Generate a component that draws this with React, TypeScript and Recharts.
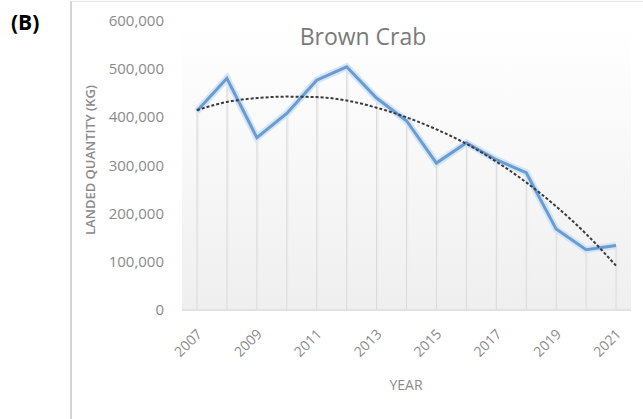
import { Bar, CartesianGrid, ComposedChart, Line, XAxis, YAxis } from 'recharts'

const YEARS = [
  '2007', '2008', '2009', '2010', '2011', '2012', '2013', '2014',
  '2015', '2016', '2017', '2018', '2019', '2020', '2021',
]
const LANDED = [
  413000, 481000, 358000, 408000, 477000, 505000, 440000, 393000,
  305000, 347000, 312000, 285000, 168000, 125000, 134000,
]
const TREND = [
  415000, 432000, 440000, 443000, 442000, 435000, 420000, 400000,
  375000, 345000, 308000, 265000, 215000, 158000, 92000,
]
const Y_TICKS = [0, 100000, 200000, 300000, 400000, 500000, 600000]

const data = YEARS.map((year, i) => ({ year, qty: LANDED[i], trend: TREND[i] }))

const FONT = '"Open Sans", "Liberation Sans", sans-serif'
const GREY = '#8a8a8a'

const fmt = (v: number) => v.toLocaleString('en-US')

/** Excel-style drop line from the point down to the axis. */
function DropLine(props: any) {
  const { x, y, width, height } = props
  if (height == null || height <= 0) return null
  const cx = x + width / 2
  return (
    <g>
      <line x1={cx + 1} x2={cx + 1} y1={y} y2={y + height} stroke="#efefef" strokeWidth={2} />
      <line x1={cx} x2={cx} y1={y} y2={y + height} stroke="#dadada" strokeWidth={1} />
    </g>
  )
}

function YearTick(props: any) {
  const { x, y, payload } = props
  const tx = x + 6
  const ty = y + 17
  return (
    <text
      x={tx}
      y={ty}
      transform={`rotate(-45 ${tx} ${ty})`}
      textAnchor="end"
      fill={GREY}
      fontSize={14}
      fontFamily={FONT}
    >
      {payload.value}
    </text>
  )
}

function ValueTick(props: any) {
  const { x, y, payload } = props
  return (
    <text x={x - 10} y={y + 5} textAnchor="end" fill={GREY} fontSize={15} fontFamily={FONT}>
      {fmt(payload.value)}
    </text>
  )
}

export default function App() {
  return (
    <div
      style={{
        position: 'fixed',
        left: 0,
        top: 0,
        width: 643,
        height: 419,
        background: '#fff',
        fontFamily: FONT,
      }}
    >
      <div
        style={{
          position: 'absolute',
          left: 70,
          top: 1,
          right: 0,
          bottom: 0,
          borderLeft: '2px solid #d4d4d4',
          borderTop: '1px solid #e4e4e4',
        }}
      />
      <div
        style={{
          position: 'absolute',
          left: 11,
          top: 8,
          fontSize: 21,
          fontWeight: 700,
          color: '#000',
        }}
      >
        (B)
      </div>
      <div
        style={{
          position: 'absolute',
          left: 406,
          top: 375,
          transform: 'translateX(-50%)',
          fontSize: 14,
          color: GREY,
        }}
      >
        YEAR
      </div>
      <div
        style={{
          position: 'absolute',
          left: 90,
          top: 160,
          transform: 'translate(-50%, -50%) rotate(-90deg)',
          whiteSpace: 'nowrap',
          fontSize: 13,
          fontWeight: 600,
          color: GREY,
        }}
      >
        LANDED QUANTITY (KG)
      </div>
      <div style={{ position: 'absolute', left: 0, top: 0 }}>
        <ComposedChart
          width={643}
          height={419}
          data={data}
          margin={{ top: 21, right: 12, bottom: 49, left: 85 }}
        >
          <defs>
            <linearGradient id="plotBg" x1="0" y1="0" x2="0" y2="1">
              <stop offset="0%" stopColor="#ffffff" />
              <stop offset="35%" stopColor="#fafafa" />
              <stop offset="100%" stopColor="#efefef" />
            </linearGradient>
          </defs>
          <CartesianGrid
            fill="url(#plotBg)"
            horizontal={false}
            vertical={false}
            stroke="none"
          />
          <XAxis
            dataKey="year"
            interval={1}
            tickLine={false}
            axisLine={{ stroke: '#e2e2e2', strokeWidth: 2 }}
            tick={<YearTick />}
            height={60}
          />
          <YAxis
            domain={[0, 600000]}
            ticks={Y_TICKS}
            axisLine={false}
            tickLine={false}
            width={97}
            tick={<ValueTick />}
          />
          <Bar dataKey="qty" shape={<DropLine />} isAnimationActive={false} />
          <Line
            dataKey="qty"
            stroke="#d3e5f7"
            strokeWidth={7}
            dot={false}
            activeDot={false}
            type="linear"
            isAnimationActive={false}
          />
          <Line
            dataKey="qty"
            stroke="#6a9bd1"
            strokeWidth={3}
            dot={false}
            activeDot={false}
            type="linear"
            isAnimationActive={false}
          />
          <Line
            dataKey="trend"
            stroke="#3a3a3a"
            strokeWidth={2}
            strokeDasharray="3 2"
            dot={false}
            activeDot={false}
            type="monotone"
            isAnimationActive={false}
          />
        </ComposedChart>
      </div>
      <div
        style={{
          position: 'absolute',
          left: 363,
          top: 20,
          transform: 'translateX(-50%)',
          whiteSpace: 'nowrap',
          fontSize: 23,
          color: '#7a7a7a',
        }}
      >
        Brown Crab
      </div>
    </div>
  )
}
